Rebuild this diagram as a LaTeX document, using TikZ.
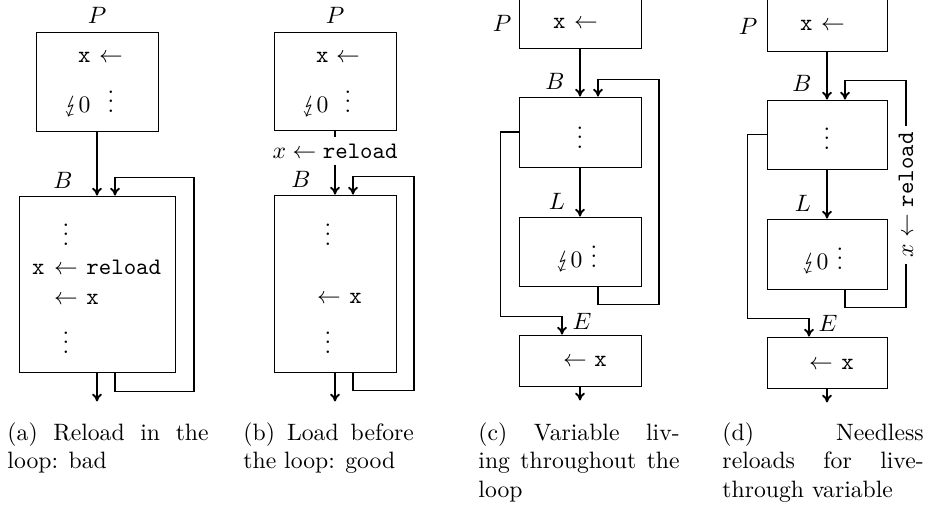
\documentclass[tikz,border=0pt]{standalone}
\usepackage{stmaryrd}
\usetikzlibrary{calc,fit,arrows.meta}

\tikzset{
  blk/.style={draw, inner sep=0pt, line width=0.4pt},
  flow/.style={-{To[length=3.3pt,width=4.2pt]}, line width=0.8pt},
  wire/.style={line width=0.8pt},
  cell/.style={inner sep=0pt},
  lab/.style={inner sep=0pt},
  rl/.style={inner sep=2.5pt},
  capt/.style={anchor=north west, inner sep=0pt, align=justify, text width=85pt},
}

\begin{document}
\begin{tikzpicture}[x=0.4225pt,y=0.4225pt,yscale=-1,xscale=1]
\useasboundingbox (0,0) rectangle (935,508);

%% (a) Reload in the loop
%Shape: Rectangle
\node[blk, fit={(36,32) (158,131)}] (Pa) {};
\node[blk, fit={(19,196) (175,372)}] (Ba) {};
% Text Node
\node[lab] (labPa) at (97,15) {$P$};
\node[lab] (labBa) at (63,180) {$B$};
\node[cell, anchor=base east] (pa1) at (91,62) {\texttt{x}};
\node[cell, anchor=base] (pa2) at (111,62) {$\leftarrow$};
\node[cell, anchor=base east] (pa3) at (91,112) {$\lightning 0$};
\node[cell, anchor=base] (pa4) at (111,112) {$\vdots$};
\node[cell, anchor=base] (ba1) at (66,245) {$\vdots$};
\node[cell, anchor=base east] (ba2) at (45,274) {\texttt{x}};
\node[cell, anchor=base] (ba3) at (66,274) {$\leftarrow$};
\node[cell, anchor=base west] (ba4) at (86,274) {\texttt{reload}};
\node[cell, anchor=base] (ba5) at (66,304) {$\leftarrow$};
\node[cell, anchor=base west] (ba6) at (86,304) {\texttt{x}};
\node[cell, anchor=base] (ba7) at (66,353) {$\vdots$};
%Straight Lines
\draw[flow] (Pa.south) -- (Ba.north);
\draw[flow] ($(Ba.south)+(18,0)$) -- ++(0,19) -| ++(79,-214) -| ($(Ba.north)+(18,0)$);
\draw[flow] (Ba.south) -- ++(0,29);

%% (b) Load before the loop
%Shape: Rectangle
\node[blk, fit={(274,32) (396,130)}] (Pb) {};
\node[blk, fit={(274,195) (396,372)}] (Bb) {};
% Text Node
\node[lab] (labPb) at (335,15) {$P$};
\node[lab] (labBb) at (301,179) {$B$};
\node[cell, anchor=base east] (pb1) at (329,62) {\texttt{x}};
\node[cell, anchor=base] (pb2) at (348,62) {$\leftarrow$};
\node[cell, anchor=base east] (pb3) at (329,112) {$\lightning 0$};
\node[cell, anchor=base] (pb4) at (348,112) {$\vdots$};
\node[rl] (rlb) at (335,151) {$x \leftarrow \texttt{reload}$};
\node[cell, anchor=base] (bb1) at (328,245) {$\vdots$};
\node[cell, anchor=base] (bb2) at (329,303) {$\leftarrow$};
\node[cell, anchor=base west] (bb3) at (349,303) {\texttt{x}};
\node[cell, anchor=base] (bb4) at (328,353) {$\vdots$};
%Straight Lines
\draw[wire] (Pb.south) -- (rlb);
\draw[flow] (rlb) -- (Bb.north);
\draw[flow] ($(Bb.south)+(18,0)$) -- ++(0,18) -| ++(61,-214) -| ($(Bb.north)+(18,0)$);
\draw[flow] (Bb.south) -- ++(0,29);

%% (c) Variable living throughout the loop
%Shape: Rectangle
\node[blk, fit={(519,-2) (641,48)}] (Pc) {};
\node[blk, fit={(519,97) (641,167)}] (Bc) {};
\node[blk, fit={(519,217) (641,286)}] (Lc) {};
\node[blk, fit={(519,335) (641,386)}] (Ec) {};
% Text Node
\node[lab] (labPc) at (502,23) {$P$};
\node[lab] (labBc) at (555,81) {$B$};
\node[lab] (labLc) at (557,201) {$L$};
\node[lab] (labEc) at (582,321) {$E$};
\node[cell, anchor=base east] (pc1) at (566,28) {\texttt{x}};
\node[cell, anchor=base] (pc2) at (586,28) {$\leftarrow$};
\node[cell, anchor=base] (bc1) at (580,148) {$\vdots$};
\node[cell, anchor=base east] (lc1) at (583,267) {$\lightning 0$};
\node[cell, anchor=base] (lc2) at (594,267) {$\vdots$};
\node[cell, anchor=base] (ec1) at (575,366) {$\leftarrow$};
\node[cell, anchor=base west] (ec2) at (594,366) {\texttt{x}};
%Straight Lines
\draw[flow] (Pc.south) -- (Bc.north);
\draw[flow] (Bc.south) -- (Lc.north);
\draw[flow] ($(Lc.south)+(18,0)$) -- ++(0,18) -| ++(61,-225) -| ($(Bc.north)+(18,0)$);
\draw[flow] (Bc.west) -- ++(-18,0) |- ($(Ec.north)+(-18,-18)$) -- ($(Ec.north)+(-18,0)$);
\draw[flow] (Ec.south) -- ++(0,14);

%% (d) Needless reloads for live-through variable
%Shape: Rectangle
\node[blk, fit={(767,-2) (887,51)}] (Pd) {};
\node[blk, fit={(767,100) (887,169)}] (Bd) {};
\node[blk, fit={(767,219) (887,289)}] (Ld) {};
\node[blk, fit={(767,337) (887,388)}] (Ed) {};
% Text Node
\node[lab] (labPd) at (748,26) {$P$};
\node[lab] (labBd) at (802,83) {$B$};
\node[lab] (labLd) at (803,203) {$L$};
\node[lab] (labEd) at (828,323) {$E$};
\node[cell, anchor=base east] (pd1) at (813,30) {\texttt{x}};
\node[cell, anchor=base] (pd2) at (833,30) {$\leftarrow$};
\node[cell, anchor=base] (bd1) at (827,149) {$\vdots$};
\node[cell, anchor=base east] (ld1) at (829,269) {$\lightning 0$};
\node[cell, anchor=base] (ld2) at (840,269) {$\vdots$};
\node[cell, anchor=base] (ed1) at (821,369) {$\leftarrow$};
\node[cell, anchor=base west] (ed2) at (841,369) {\texttt{x}};
\node[rl, rotate=90] (rld) at (906,195) {$x \leftarrow \texttt{reload}$};
%Straight Lines
\draw[flow] (Pd.south) -- (Bd.north);
\draw[flow] (Bd.south) -- (Ld.north);
\draw[wire] ($(Ld.south)+(18,0)$) -- ++(0,18) -| (rld);
\draw[flow] (rld) |- ($(Bd.north)+(18,-19)$) -- ($(Bd.north)+(18,0)$);
\draw[flow] (Bd.west) -- ++(-19,0) |- ($(Ed.north)+(-18,-18)$) -- ($(Ed.north)+(-18,0)$);
\draw[flow] (Ed.south) -- ++(0,14);

%% captions
% Text Node
\node[capt] (capa) at (7,420) {\strut(a) Reload in the\linebreak loop: bad};
\node[capt, text width=72pt] (capb) at (243,420) {\strut(b) Load before\linebreak the loop: good};
\node[capt] (capc) at (478,420) {\strut(c) Variable liv-\linebreak ing throughout the loop};
\node[capt] (capd) at (722,420) {\strut(d) Needless\linebreak reloads for live-\linebreak through variable};

\end{tikzpicture}
\end{document}
